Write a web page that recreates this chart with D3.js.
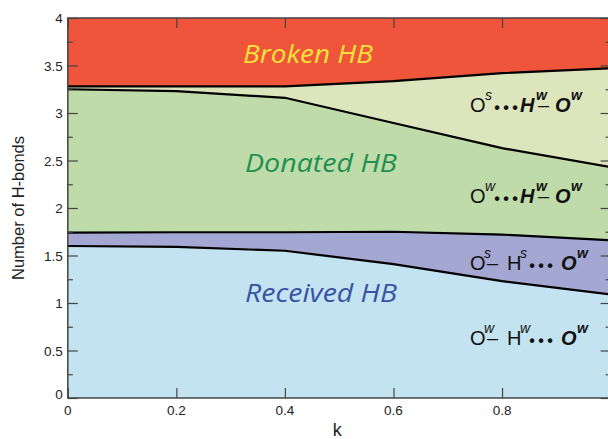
<!DOCTYPE html>
<html><head><meta charset="utf-8">
<script src="https://cdn.jsdelivr.net/npm/d3@7"></script>
<style>body{margin:0;background:#fff}svg{display:block}</style>
</head><body>
<svg id="c" width="608" height="439"></svg>
<script>
// k values
const kValues = [0, 0.2, 0.4, 0.6, 0.8, 1.0];
// stacked components (number of H-bonds)
const recvWater  = [1.60, 1.59, 1.55, 1.41, 1.23, 1.09];   // Ow–Hw···Ow
const recvSolute = [0.14, 0.155, 0.195, 0.34, 0.49, 0.57]; // Os–Hs···Ow
const donWater   = [1.51, 1.485, 1.415, 1.145, 0.91, 0.77]; // Ow···Hw–Ow
const donSolute  = [0.03, 0.05, 0.12, 0.44, 0.79, 1.04];   // Os···Hw–Ow
const broken     = [0.72, 0.72, 0.72, 0.67, 0.58, 0.53];
const yTicks = [0, 0.5, 1, 1.5, 2, 2.5, 3, 3.5, 4];
const yMinor = [0.25, 0.75, 1.25, 1.75, 2.25, 2.75, 3.25, 3.75];
const xTicks = [0, 0.2, 0.4, 0.6, 0.8];
const regionLabels = ["Broken HB", "Donated HB", "Received HB"];

const seriesKeys = ["recvWater","recvSolute","donWater","donSolute","broken"];
const colors = {recvWater:"#c3e3f1", recvSolute:"#a3a7d1", donWater:"#bfdba9", donSolute:"#dde5bd", broken:"#ee553a"};
const table = kValues.map((k,i)=>({k, recvWater:recvWater[i], recvSolute:recvSolute[i], donWater:donWater[i], donSolute:donSolute[i], broken:broken[i]}));

const svg = d3.select("#c");
const x = d3.scaleLinear().domain([0,1]).range([67.8, 610.6]);
const y = d3.scaleLinear().domain([0,4]).range([398, 18]);

svg.append("defs").append("clipPath").attr("id","clip").append("rect")
  .attr("x",x(0)).attr("y",y(4)).attr("width",x(1)-x(0)).attr("height",y(0)-y(4));

const stack = d3.stack().keys(seriesKeys)(table);
const area = d3.area().x(d=>x(d.data.k)).y0(d=>y(d[0])).y1(d=>y(d[1]));
const line = d3.line().x(d=>x(d.data.k)).y(d=>y(d[1]));
const g = svg.append("g").attr("clip-path","url(#clip)");
g.selectAll("path.a").data(stack).join("path").attr("class","a")
  .attr("d",area).attr("fill",d=>colors[d.key]);
g.selectAll("path.l").data(stack.slice(0,4)).join("path").attr("class","l")
  .attr("d",line).attr("fill","none").attr("stroke","#000").attr("stroke-width",2.2);

// axes
const axisColor = "#444";
const tickFont = "Liberation Sans, Arial, sans-serif";
function styleAxis(sel){ sel.select(".domain").remove(); sel.selectAll("line").attr("stroke",axisColor).attr("stroke-width",1.2); }
svg.append("g").attr("transform",`translate(${x(0)},0)`).call(d3.axisRight(y).tickValues(yTicks).tickSize(10).tickFormat("")).call(styleAxis);
svg.append("g").attr("transform",`translate(${x(0)},0)`).call(d3.axisRight(y).tickValues(yMinor).tickSize(5).tickFormat("")).call(styleAxis);
svg.append("g").attr("transform",`translate(${x(1)},0)`).call(d3.axisLeft(y).tickValues(yTicks).tickSize(10).tickFormat("")).call(styleAxis);
svg.append("g").attr("transform",`translate(${x(1)},0)`).call(d3.axisLeft(y).tickValues(yMinor).tickSize(5).tickFormat("")).call(styleAxis);
svg.append("g").attr("transform",`translate(0,${y(0)})`).call(d3.axisTop(x).tickValues(xTicks).tickSize(10).tickFormat("")).call(styleAxis);
svg.append("g").attr("transform",`translate(0,${y(4)})`).call(d3.axisBottom(x).tickValues(xTicks).tickSize(10).tickFormat("")).call(styleAxis);
// tick labels
svg.append("g").selectAll("text").data(yTicks).join("text")
  .attr("x",x(0)-5).attr("y",d=>y(d)+(d===0? 1:5)).attr("text-anchor","end")
  .attr("font-family",tickFont).attr("font-size",13.5).attr("fill","#222")
  .text(d=>d3.format("")(d));
svg.append("g").selectAll("text").data(xTicks).join("text")
  .attr("x",d=>x(d)).attr("y",y(0)+17).attr("text-anchor","middle")
  .attr("font-family",tickFont).attr("font-size",13.5).attr("fill","#222")
  .text(d=>d3.format("")(d));
// frame
svg.append("rect").attr("x",x(0)).attr("y",y(4)).attr("width",x(1)-x(0)).attr("height",y(0)-y(4))
  .attr("fill","none").attr("stroke",axisColor).attr("stroke-width",1.5);

// axis titles
svg.append("text").attr("transform",`translate(24,${(y(0)+y(4))/2}) rotate(-90)`)
  .attr("text-anchor","middle").attr("font-family",tickFont).attr("font-size",16.5).attr("fill","#222")
  .text("Number of H-bonds");
svg.append("text").attr("x",x(0.5)-2).attr("y",436).attr("text-anchor","middle")
  .attr("font-family",tickFont).attr("font-size",18).attr("fill","#222").text("k");

// big region labels
const bigFont = "Open Sans, Lato, sans-serif";
const bigPos = [[243,63,130,"#f5e23a"],[245,171.7,152,"#1e9150"],[245,301.7,152,"#3953a4"]];
regionLabels.forEach((t,i)=>{
  const [bx,by,bw,c] = bigPos[i];
  svg.append("text").attr("x",bx).attr("y",by).attr("font-family",bigFont).attr("font-style","italic")
    .attr("font-size",25.5).attr("fill",c).attr("textLength",bw).attr("lengthAdjust","spacingAndGlyphs").text(t);
});

// formula labels
const fFont = "Liberation Sans, Arial, sans-serif";
function formula(x0, base, parts){
  const fg = svg.append("g").attr("transform",`translate(${x0},${base})`);
  parts.forEach(p=>{
    const tx = fg.append("text").attr("font-family",fFont).attr("fill","#111");
    if(p.dot){
      tx.attr("x",p.x).attr("y",1).attr("text-anchor","middle").attr("font-size",16).attr("font-weight","bold").text("•");
      return;
    }
    tx.attr("x",p.x).attr("y",p.sup? -12 : 0).attr("font-size",p.sup? 14 : 20).text(p.t);
    if(p.b) tx.attr("font-weight","bold");
    if(p.i) tx.attr("font-style","italic");
  });
}
const D = (xx)=>({dot:true,x:xx});
formula(470,111.5,[{t:"O",x:0},{t:"s",i:true,sup:true,x:15},D(27),D(36),D(45),
  {t:"H",b:true,i:true,x:50},{t:"w",b:true,i:true,sup:true,x:66},{t:"–",x:68},
  {t:"O",b:true,i:true,x:85},{t:"w",b:true,i:true,sup:true,x:101}]);
formula(470,203,[{t:"O",x:0},{t:"w",i:true,sup:true,x:15},D(27),D(36),D(45),
  {t:"H",b:true,i:true,x:50},{t:"w",b:true,i:true,sup:true,x:66},{t:"–",x:68},
  {t:"O",b:true,i:true,x:85},{t:"w",b:true,i:true,sup:true,x:101}]);
formula(470,270,[{t:"O",x:0},{t:"s",i:true,sup:true,x:14},{t:"–",x:17},
  {t:"H",x:37},{t:"s",i:true,sup:true,x:50},D(62),D(71),D(80),
  {t:"O",b:true,i:true,x:91},{t:"w",b:true,i:true,sup:true,x:107}]);
formula(470,345,[{t:"O",x:0},{t:"w",i:true,sup:true,x:14},{t:"–",x:17},
  {t:"H",x:37},{t:"w",i:true,sup:true,x:50},D(62),D(71),D(80),
  {t:"O",b:true,i:true,x:91},{t:"w",b:true,i:true,sup:true,x:107}]);
</script>
</body></html>
